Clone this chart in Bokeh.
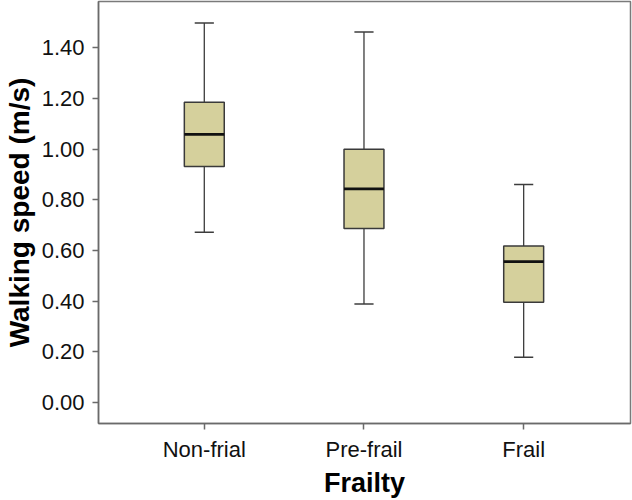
from bokeh.plotting import figure
from bokeh.models import ColumnDataSource, FixedTicker, Range1d
from bokeh.embed import file_html
from bokeh.resources import INLINE

categories = ["Non-frial", "Pre-frail", "Frail"]
lower_whisker = [0.672, 0.389, 0.179]
q1 = [0.931, 0.686, 0.396]
median = [1.058, 0.843, 0.556]
q3 = [1.185, 0.999, 0.617]
upper_whisker = [1.497, 1.462, 0.860]
y_ticks = [0.0, 0.2, 0.4, 0.6, 0.8, 1.0, 1.2, 1.4]

xs = [i + 1 for i in range(len(categories))]
box_w = 0.25
cap_w = 0.12

src = ColumnDataSource(dict(
    x=xs, lw=lower_whisker, q1=q1, med=median, q3=q3, uw=upper_whisker,
    bx0=[x - box_w / 2 for x in xs], bx1=[x + box_w / 2 for x in xs],
    cx0=[x - cap_w / 2 for x in xs], cx1=[x + cap_w / 2 for x in xs],
))

p = figure(width=632, height=500, output_backend="svg", toolbar_location=None,
           x_range=Range1d(0.3375, 3.669), y_range=Range1d(-0.0828, 1.582),
           min_border_left=97, min_border_right=2, min_border_top=1, min_border_bottom=77)

p.segment(x0="x", y0="q3", x1="x", y1="uw", source=src, line_color="#3c3c3c", line_width=1.3)
p.segment(x0="x", y0="q1", x1="x", y1="lw", source=src, line_color="#3c3c3c", line_width=1.3)
p.segment(x0="cx0", y0="uw", x1="cx1", y1="uw", source=src, line_color="#3c3c3c", line_width=1.5)
p.segment(x0="cx0", y0="lw", x1="cx1", y1="lw", source=src, line_color="#3c3c3c", line_width=1.5)
p.vbar(x="x", width=box_w, bottom="q1", top="q3", source=src,
       fill_color="#d5d09c", line_color="#3a3a3a", line_width=1.5)
p.segment(x0="bx0", y0="med", x1="bx1", y1="med", source=src, line_color="#111111", line_width=2.8)

p.xgrid.visible = False
p.ygrid.visible = False
p.outline_line_color = "#7a7a7a"
p.outline_line_width = 1.5

p.xaxis.ticker = FixedTicker(ticks=xs)
p.xaxis.major_label_overrides = {x: c for x, c in zip(xs, categories)}
p.yaxis.ticker = FixedTicker(ticks=y_ticks)
p.yaxis.major_label_overrides = {t: f"{t:.2f}" for t in y_ticks}

for ax in (p.xaxis, p.yaxis):
    ax.axis_line_color = "#6a6a6a"
    ax.axis_line_width = 1.5
    ax.major_tick_line_color = "#6a6a6a"
    ax.major_tick_line_width = 1.5
    ax.major_tick_in = 0
    ax.major_tick_out = 6
    ax.minor_tick_line_color = None
    ax.major_label_text_font = "Liberation Sans"
    ax.major_label_text_font_size = "22px"
    ax.major_label_text_color = "#111111"
    ax.axis_label_text_font = "Liberation Sans"
    ax.axis_label_text_font_style = "bold"
    ax.axis_label_text_color = "#000000"
    ax.axis_label_text_line_height = 0.9

p.yaxis.axis_label = "Walking speed (m/s)"
p.yaxis.axis_label_text_font_size = "28px"
p.yaxis.major_label_standoff = 8
p.yaxis.axis_label_standoff = 4
p.xaxis.axis_label = "Frailty"
p.xaxis.axis_label_text_font_size = "27px"
p.xaxis.major_label_standoff = 7
p.xaxis.axis_label_standoff = 3

open("out.html", "w").write(file_html(p, INLINE))
